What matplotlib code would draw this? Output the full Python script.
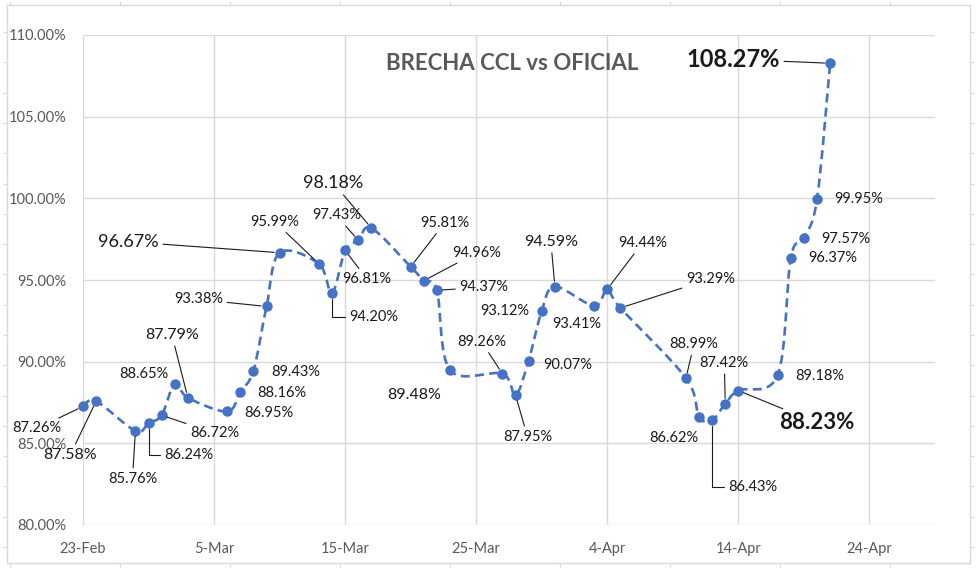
import matplotlib

matplotlib.use("Agg")
import matplotlib.dates as mdates
import matplotlib.pyplot as plt
import numpy as np
import pandas as pd
from matplotlib.patches import PathPatch
from matplotlib.path import Path

plt.rcParams["font.family"] = ["Lato", "DejaVu Sans"]

# data: CCL vs official exchange-rate gap, 2023
dates = pd.to_datetime([
    "2023-02-23", "2023-02-24", "2023-02-27", "2023-02-28", "2023-03-01",
    "2023-03-02", "2023-03-03", "2023-03-06", "2023-03-07", "2023-03-08",
    "2023-03-09", "2023-03-10", "2023-03-13", "2023-03-14", "2023-03-15",
    "2023-03-16", "2023-03-17", "2023-03-20", "2023-03-21", "2023-03-22",
    "2023-03-23", "2023-03-27", "2023-03-28", "2023-03-29", "2023-03-30",
    "2023-03-31", "2023-04-03", "2023-04-04", "2023-04-05", "2023-04-10",
    "2023-04-11", "2023-04-12", "2023-04-13", "2023-04-14", "2023-04-17",
    "2023-04-18", "2023-04-19", "2023-04-20", "2023-04-21",
])
gap = [
    87.26, 87.58, 85.76, 86.24, 86.72, 88.65, 87.79, 86.95, 88.16, 89.43,
    93.38, 96.67, 95.99, 94.20, 96.81, 97.43, 98.18, 95.81, 94.96, 94.37,
    89.48, 89.26, 87.95, 90.07, 93.12, 94.59, 93.41, 94.44, 93.29, 88.99,
    86.62, 86.43, 87.42, 88.23, 89.18, 96.37, 97.57, 99.95, 108.27,
]
title = "BRECHA CCL vs OFICIAL"
y_ticks = [80, 85, 90, 95, 100, 105, 110]
x_start, x_end = pd.Timestamp("2023-02-23"), pd.Timestamp("2023-04-29")
x_ticks = pd.date_range("2023-02-23", "2023-04-24", freq="10D")

# label layout: offset in pixels from the point (dx, dy), leader line kind
label_layout = [
    (-46, -22, "line"), (-26, -54, "line"), (-3, -48, "line"), (40, -32, "L"),
    (53, -18, "line"), (-31, 10, None), (-16, 63, "line"), (42, -2, None),
    (42, -1, None), (42, -1, None), (-68, 7, "line"), (-151, 11, "line"),
    (-44, 42, "line"), (42, -24, "L"), (22, -29, "line"), (-22, 25, "line"),
    (-38, 45, "line"), (34, 44, "line"), (53, 28, "line"), (47, 3, "line"),
    (-36, -25, None), (-21, 32, "line"), (12, -42, "line"), (39, -4, None),
    (-37, 0, None), (-4, 45, "line"), (-17, -18, None), (35, 46, "line"),
    (90, 29, "line"), (8, 34, "line"), (-25, -21, None), (41, -67, "L"),
    (-1, 41, "line"), (78, -32, "line"), (42, -1, None), (42, 0, None),
    (42, -1, None), (42, 0, None), (-97, 4, "line"),
]
label_size = {1: 11.5, 6: 11.5, 11: 13, 16: 13, 20: 11.5, 25: 11.5}
label_bold = {33: 16, 38: 17}

blue = "#4472C4"
grid_c = "#d9d9d9"
text_c = "#595959"

fig = plt.figure(figsize=(9.8, 5.74), dpi=100)

# outer chart frame with little outward ticks
frame = fig.add_axes([7 / 980, 1 - 563 / 574, 963 / 980, 558 / 574], zorder=0)
frame.set_xlim(7, 970)
frame.set_ylim(563, 5)
frame.set_yticks(np.arange(32, 563, 30.3))
frame.set_xticks(np.arange(10, 970, 110))
frame.tick_params(which="both", direction="out", length=3, color=grid_c,
                  labelleft=False, labelbottom=False, right=True, top=True)
for s in frame.spines.values():
    s.set_color(grid_c)
    s.set_linewidth(1)

ax = fig.add_axes([83 / 980, 1 - 525 / 574, 852 / 980, 490 / 574], zorder=1)
ax.patch.set_alpha(0)
x = mdates.date2num(dates)
y = np.array(gap)

# smoothed line like the spreadsheet's "smoothed line" option
pts = np.column_stack([x, y])
n = len(pts)
verts = [pts[0]]
codes = [Path.MOVETO]
for i in range(n - 1):
    p0, p1 = pts[max(i - 1, 0)], pts[i]
    p2, p3 = pts[i + 1], pts[min(i + 2, n - 1)]
    verts += [p1 + (p2 - p0) / 6, p2 - (p3 - p1) / 6, p2]
    codes += [Path.CURVE4] * 3
ax.add_patch(PathPatch(Path(verts, codes), fill=False, edgecolor=blue,
                       linewidth=1.9, linestyle=(0, (3.4, 2.0)), zorder=3,
                       capstyle="butt", clip_on=False))
ax.plot(x, y, linestyle="none", marker="o", markersize=6.5, color=blue,
        zorder=4, clip_on=False)

for i, (xi, yi, (dx, dy, kind)) in enumerate(zip(x, y, label_layout)):
    size = label_bold.get(i, label_size.get(i, 10.5))
    weight = "bold" if i in label_bold else "normal"
    arrow = None
    if kind == "line":
        arrow = dict(arrowstyle="-", color="#1a1a1a", lw=0.8, shrinkA=1, shrinkB=4)
    elif kind == "L":
        arrow = dict(arrowstyle="-", color="#1a1a1a", lw=0.8, shrinkA=1, shrinkB=4,
                     connectionstyle="angle,angleA=0,angleB=90,rad=0")
    ax.annotate(f"{yi:.2f}%", xy=(xi, yi), xytext=(dx, dy),
                textcoords="offset pixels", ha="center", va="center",
                fontsize=size, fontweight=weight, color="#1a1a1a",
                arrowprops=arrow, zorder=5, annotation_clip=False)

ax.set_xlim(x_start, x_end)
ax.set_ylim(80, 110)
ax.set_yticks(y_ticks)
ax.set_yticklabels([f"{v:.2f}%" for v in y_ticks])
ax.set_xticks(x_ticks)
ax.set_xticklabels([f"{d.day}-{d.strftime('%b')}" for d in x_ticks])
ax.tick_params(length=0, labelsize=10.5, labelcolor=text_c)
ax.tick_params(axis="y", pad=12)
ax.tick_params(axis="x", pad=12)
ax.grid(True, color=grid_c, linewidth=1)
ax.set_axisbelow(True)
for s in ax.spines.values():
    s.set_visible(False)

fig.text(512 / 980, 1 - 63 / 574, title, ha="center", va="center",
         fontsize=16, fontweight="bold", color=text_c)

fig.savefig("out.png", dpi=100)
